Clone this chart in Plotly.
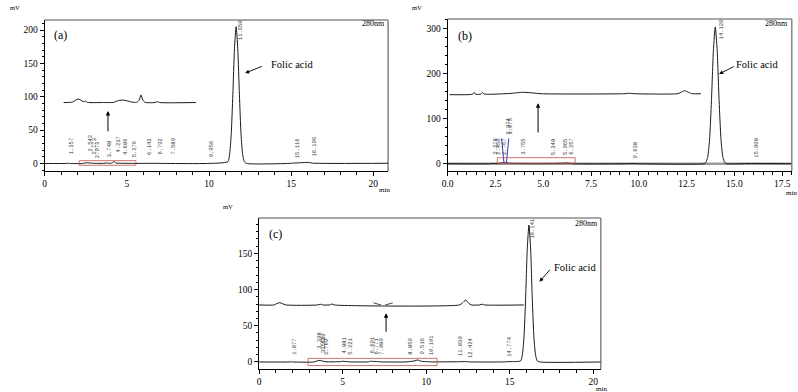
import plotly.graph_objects as go

W, H = 798, 392

# ---------------- Panel (a) data ----------------
a_time = [0, 1.3, 1.4, 1.5, 2.3, 2.5, 2.7, 2.9, 3.6, 3.75, 3.9, 4.1, 4.22, 4.35, 4.6, 5.2, 5.5, 6.1, 6.8, 7.5,
          9.9, 11.15, 11.25, 11.35, 11.45, 11.55, 11.65, 11.75, 11.85, 11.95, 12.05, 12.15, 12.3,
          14.8, 15.1, 15.5, 16.1, 16.3, 20.9]
a_signal = [0, 0, 0.4, 0, 0, 1.0, 0.8, 0.3, 0.2, 0.8, 0.3, 0.5, 3.0, 0.6, 0.3, 0.2, 0, 0.2, 0.2, 0,
            0, 2.7, 13, 43, 103, 172, 205, 172, 103, 43, 13, 2.7, 0,
            0, 0.5, 1.0, 1.5, 0.5, 0.3]
a_inset_time = [1.15, 1.7, 1.85, 2.03, 2.2, 2.35, 2.48, 2.6, 3.5, 4.2, 4.45, 4.7, 4.95, 5.3, 5.6, 5.75, 5.86,
                5.97, 6.1, 6.7, 6.87, 7.0, 9.2]
a_inset_signal = [91.3, 92.0, 94.5, 96.5, 95.0, 92.5, 93.5, 91.6, 91.3, 91.6, 94.0, 95.0, 94.2, 92.0, 91.6,
                  95.0, 102.8, 95.0, 91.6, 91.3, 92.5, 91.3, 91.3]
a_peak_times = [1.357, 2.542, 2.773, 2.973, 3.748, 4.237, 4.686, 5.276, 6.142, 6.792, 7.580, 9.956,
                11.650, 15.116, 16.196]
a_label_base = [10, 15, 10, 5, 6, 13, 10, 6, 10, 10, 10, 6, 182, 5, 7]
a_box = [2.1, 5.55, -2.7, 4.2]

# ---------------- Panel (b) data ----------------
b_time = [0, 2.2, 2.3, 2.45, 2.75, 2.97, 3.08, 3.3, 3.75, 4.0, 5.35, 5.95, 6.25, 6.6, 9.3, 9.64, 10.0,
          13.4, 13.5, 13.6, 13.7, 13.8, 13.9, 14.0, 14.1, 14.2, 14.3, 14.4, 14.5, 14.6, 15.9, 18.0]
b_signal = [0, 0, 0.5, 0.5, 1.0, 2.5, 2.0, 0.5, 0.6, 0.3, 0.3, 1.0, 1.5, 0, 0, 0.5, 0,
            0, 2.4, 14, 53, 140, 250, 303, 250, 140, 53, 14, 2.4, 0, 0.5, 0]
b_inset_time = [0.1, 1.3, 1.39, 1.45, 1.75, 1.82, 1.9, 3.0, 3.5, 3.9, 4.4, 4.9, 9.2, 9.5, 9.8, 12.0, 12.2,
                12.39, 12.6, 12.8, 13.25]
b_inset_signal = [153.0, 154.0, 158.0, 154.0, 154.3, 158.0, 154.5, 155.0, 156.5, 158.2, 157.0, 155.0,
                  155.0, 156.0, 155.0, 155.0, 158.0, 161.8, 158.0, 155.0, 155.0]
b_peak_times = [2.278, 2.450, 2.767, 2.974, 3.075, 3.755, 5.348, 5.965, 6.257, 9.638, 14.120, 15.908]
b_label_base = [15, 15, 15, 60, 60, 15, 15, 15, 15, 8, 270, 8]
b_marker_time = [2.82, 2.95, None, 3.2, 3.07]
b_marker_signal = [56, 1, None, 56, 1]
b_box = [2.6, 6.67, 0.9, 13.3]

# ---------------- Panel (c) data ----------------
c_time = [0, 1.8, 1.9, 2.0, 3.3, 3.5, 3.65, 3.8, 4.0, 4.85, 5.0, 5.2, 5.4, 6.55, 6.65, 6.8, 7.1, 7.3,
          8.8, 9.3, 9.5, 9.7, 10.1, 10.3, 11.8, 12.4, 12.6, 14.7, 14.9,
          15.65, 15.75, 15.85, 15.95, 16.05, 16.15, 16.25, 16.35, 16.45, 16.55, 16.65, 16.8, 20.45]
c_signal = [0, 0, 0.3, 0, 0, 1.8, 2.2, 1.2, 0.3, 0.4, 1.0, 0.6, 0.2, 0.2, 1.0, 0.8, 0.5, 0.1,
            0.1, 1.5, 2.8, 1.0, 0.4, 0.1, 0.3, 0.5, 0.1, 0.1, 0.5,
            1.5, 9, 33, 87, 156, 189, 156, 87, 33, 9, 1.5, 0, 0]
c_inset_time = [0, 0.9, 1.05, 1.23, 1.4, 1.6, 3.5, 3.66, 3.8, 4.2, 4.35, 4.5, 12.0, 12.15, 12.37, 12.55,
                12.7, 13.2, 13.36, 13.5, 15.84]
c_inset_signal = [78.7, 78.7, 80.5, 81.8, 80.5, 78.7, 78.7, 79.7, 78.7, 78.7, 80.0, 78.7, 78.7, 81.0, 85.5,
                  81.0, 78.7, 78.7, 79.7, 78.7, 78.7]
c_marker_time = [6.85, 7.3, None, 7.55, 8.0]
c_marker_signal = [81.5, 78.7, None, 78.7, 81.5]
c_peak_times = [1.877, 3.398, 3.575, 3.629, 3.760, 4.881, 5.221, 6.601, 6.771, 7.080, 8.850, 9.516,
                10.101, 11.830, 12.424, 14.774, 16.141]
c_label_base = [7, 16, 10, 14, 7, 9, 7, 9, 7, 7, 8, 7, 7, 5, 3, 5, 168]
c_box = [2.93, 10.65, -5, 5]

# ---------------- layout geometry (pixels) ----------------
A_X = [39 / W, 385 / W];    A_Y = [1 - 171 / H, 1 - 20 / H]
B_X = [445 / W, 791.7 / W]; B_Y = [1 - 171 / H, 1 - 19 / H]
C_X = [255 / W, 599.3 / W]; C_Y = [1 - 369 / H, 1 - 218 / H]

LINE = '#1a1a1a'
SERIF = 'Liberation Serif'

fig = go.Figure()

def add_panel(xa, ya, t, s, it, isg):
    fig.add_trace(go.Scatter(x=t, y=s, mode='lines', xaxis=xa, yaxis=ya,
                             line=dict(color=LINE, width=1, shape='spline', smoothing=0.6),
                             hoverinfo='skip', showlegend=False))
    fig.add_trace(go.Scatter(x=it, y=isg, mode='lines', xaxis=xa, yaxis=ya,
                             line=dict(color=LINE, width=1, shape='spline', smoothing=0.6),
                             hoverinfo='skip', showlegend=False))

# gray integration baseline in (b)
fig.add_trace(go.Scatter(x=[b_time[0], b_time[-1]], y=[0, 0], mode='lines', xaxis='x2', yaxis='y2',
                         line=dict(color='#9a9a9a', width=2.5), hoverinfo='skip', showlegend=False))

add_panel('x', 'y', a_time, a_signal, a_inset_time, a_inset_signal)
add_panel('x2', 'y2', b_time, b_signal, b_inset_time, b_inset_signal)
add_panel('x3', 'y3', c_time, c_signal, c_inset_time, c_inset_signal)

fig.add_trace(go.Scatter(x=b_marker_time, y=b_marker_signal, mode='lines', xaxis='x2', yaxis='y2',
                         line=dict(color='#3a3aa8', width=1), hoverinfo='skip', showlegend=False))
fig.add_trace(go.Scatter(x=c_marker_time, y=c_marker_signal, mode='lines', xaxis='x3', yaxis='y3',
                         line=dict(color=LINE, width=0.8), hoverinfo='skip', showlegend=False))


def axis_common(domain, rng, dtick, minor_dtick, anchor, is_x, fmt=None):
    d = dict(domain=domain, range=rng, anchor=anchor, showline=True, linecolor='black', linewidth=1,
             ticks='outside', ticklen=4, tickwidth=1, tickcolor='black',
             showgrid=False, zeroline=False, tick0=0, dtick=dtick, fixedrange=True,
             tickfont=dict(family=SERIF, size=9.5, color='black'),
             minor=dict(ticks='outside', ticklen=2.5 if is_x else 2, tickwidth=1, tickcolor='black',
                        dtick=minor_dtick, tick0=0, showgrid=False))
    if fmt:
        d['tickformat'] = fmt
    return d

fig.update_layout(
    width=W, height=H, margin=dict(l=0, r=0, t=0, b=0), autosize=False,
    paper_bgcolor='white', plot_bgcolor='white',
    xaxis=axis_common(A_X, [0, 20.9], 5, 1, 'y', True),
    yaxis=axis_common(A_Y, [-11.3, 215], 50, 10, 'x', False),
    xaxis2=axis_common(B_X, [0, 18.0], 2.5, 0.5, 'y2', True, '.1f'),
    yaxis2=axis_common(B_Y, [-16.2, 320.6], 100, 20, 'x2', False),
    xaxis3=axis_common(C_X, [0, 20.45], 5, 1, 'y3', True),
    yaxis3=axis_common(C_Y, [-9.7, 198.7], 50, 10, 'x3', False),
)

shapes = []
annotations = []
panels = [
    ('x', 'y', a_box, a_peak_times, a_label_base),
    ('x2', 'y2', b_box, b_peak_times, b_label_base),
    ('x3', 'y3', c_box, c_peak_times, c_label_base),
]
for xr, yr, box, pts, base in panels:
    # gray frame top and right
    shapes.append(dict(type='line', xref=xr + ' domain', yref=yr + ' domain', x0=0, x1=1, y0=1, y1=1,
                       line=dict(color='#8a8a8a', width=1.6), layer='below'))
    shapes.append(dict(type='line', xref=xr + ' domain', yref=yr + ' domain', x0=1, x1=1, y0=0, y1=1,
                       line=dict(color='#8a8a8a', width=1.6), layer='below'))
    shapes.append(dict(type='rect', xref=xr, yref=yr, x0=box[0], x1=box[1], y0=box[2], y1=box[3],
                       line=dict(color='#c0504d', width=0.8), fillcolor='rgba(0,0,0,0)'))
    for t, b in zip(pts, base):
        annotations.append(dict(x=t, y=b, xref=xr, yref=yr, text=f"{t:.3f}", showarrow=False,
                                textangle=-90, xanchor='center', yanchor='bottom', xshift=4,
                                font=dict(family='Liberation Mono', size=5.5, color='#333333')))

# vertical arrows (inset pointers)
for xr, yr, xv, y0, y1 in [('x', 'y', 3.85, 45.8, 78.8), ('x2', 'y2', 4.73, 65.8, 133.8),
                            ('x3', 'y3', 7.6, 39.6, 67.2)]:
    annotations.append(dict(x=xv, y=y1, ax=xv, ay=y0, xref=xr, yref=yr, axref=xr, ayref=yr, text='',
                            showarrow=True, arrowhead=2, arrowsize=0.9, arrowwidth=1, arrowcolor='black'))

# Folic acid labels and arrows
for xr, yr, tx, ty, hx, hy, tlx, tly in [
        ('x', 'y', 13.31, 146.4, 12.2, 135.4, 15.08, 147.9),
        ('x2', 'y2', 15.05, 217, 14.2, 198.6, 16.2, 220),
        ('x3', 'y3', 17.48, 129.3, 16.78, 110.8, 18.88, 130.7)]:
    annotations.append(dict(x=hx, y=hy, ax=tx, ay=ty, xref=xr, yref=yr, axref=xr, ayref=yr, text='',
                            showarrow=True, arrowhead=2, arrowsize=0.9, arrowwidth=0.9, arrowcolor='black'))
    annotations.append(dict(x=tlx, y=tly, xref=xr, yref=yr, text='Folic acid', showarrow=False,
                            xanchor='center', yanchor='middle',
                            font=dict(family=SERIF, size=10.5, color='black')))

def paper(px, py):
    return px / W, 1 - py / H

def ptext(px, py, text, size, xanchor='center', family=SERIF):
    x, y = paper(px, py)
    annotations.append(dict(x=x, y=y, xref='paper', yref='paper', text=text, showarrow=False,
                            xanchor=xanchor, yanchor='middle', font=dict(family=family, size=size, color='black')))

ptext(55, 35, '(a)', 12)
ptext(462.5, 35.7, '(b)', 12)
ptext(271.5, 234.3, '(c)', 12)
ptext(384, 24, '280nm', 8, 'right')
ptext(790, 24, '280nm', 8, 'right')
ptext(598, 223, '280nm', 8, 'right')
ptext(9, 7, 'mV', 6.5)
ptext(414, 7, 'mV', 6.5)
ptext(224, 206, 'mV', 6.5)
ptext(381, 190, 'min', 7)
ptext(791, 193, 'min', 7)
ptext(600, 388.5, 'min', 7)

fig.update_layout(shapes=shapes, annotations=annotations)
fig.write_html("out.html", config={'displayModeBar': False},
               post_script="document.body.style.margin='0px';document.body.style.overflow='hidden';")
